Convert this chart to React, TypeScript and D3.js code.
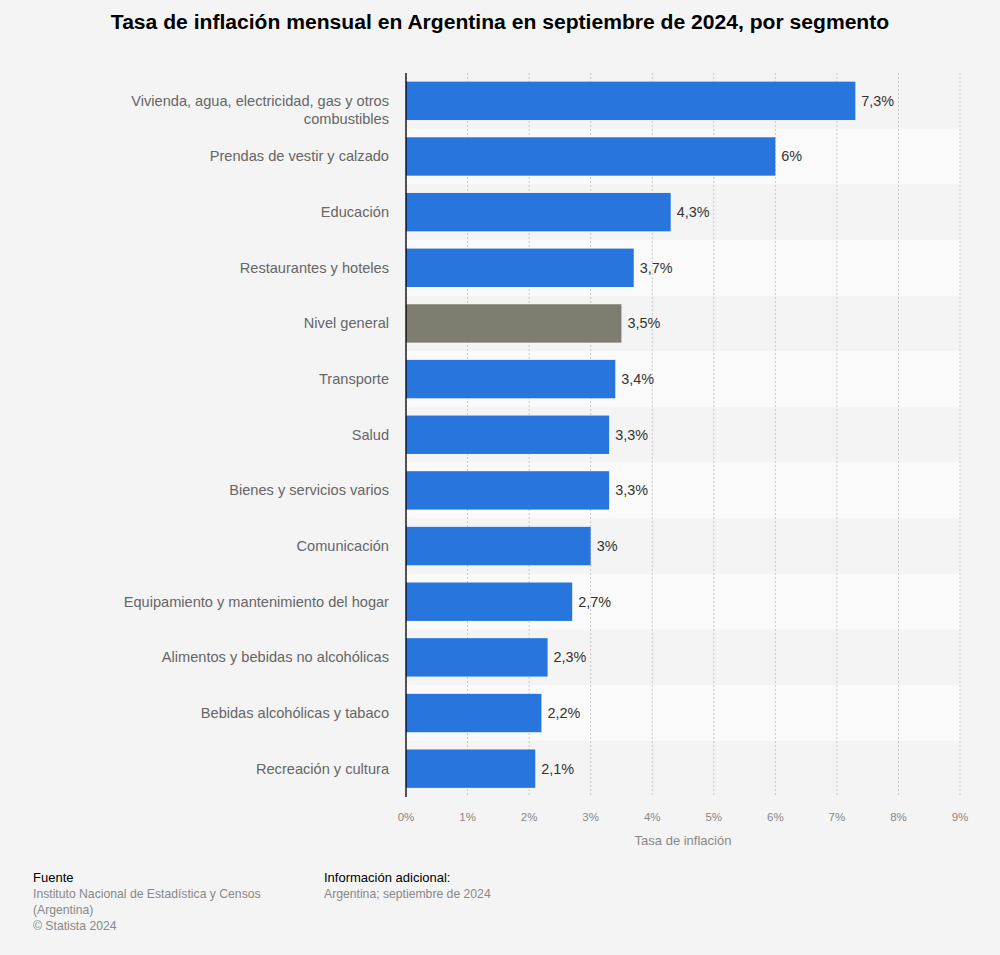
import React from "react";
import * as d3 from "d3";

const categories = [
  "Vivienda, agua, electricidad, gas y otros combustibles",
  "Prendas de vestir y calzado",
  "Educación",
  "Restaurantes y hoteles",
  "Nivel general",
  "Transporte",
  "Salud",
  "Bienes y servicios varios",
  "Comunicación",
  "Equipamiento y mantenimiento del hogar",
  "Alimentos y bebidas no alcohólicas",
  "Bebidas alcohólicas y tabaco",
  "Recreación y cultura",
];
const labelLines: Record<string, string[]> = {
  "Vivienda, agua, electricidad, gas y otros combustibles": [
    "Vivienda, agua, electricidad, gas y otros",
    "combustibles",
  ],
};
const values = [7.3, 6, 4.3, 3.7, 3.5, 3.4, 3.3, 3.3, 3, 2.7, 2.3, 2.2, 2.1];
const ticks = [0, 1, 2, 3, 4, 5, 6, 7, 8, 9];
const highlight = "Nivel general";

const W = 1000;
const H = 955;
const FONT = "'Liberation Sans', Arial, Helvetica, sans-serif";

export default function App() {
  const x = d3.scaleLinear().domain([0, 9]).range([406, 960]);
  const y = d3
    .scaleBand<string>()
    .domain(categories)
    .range([73, 796.5])
    .paddingInner(0.31)
    .paddingOuter(0.155);
  const step = y.step();
  const fmt = (v: number) => String(v).replace(".", ",") + "%";

  return (
    <svg
      width={W}
      height={H}
      style={{ display: "block", position: "absolute", left: 0, top: 0 }}
      fontFamily={FONT}
    >
      <rect width={W} height={H} fill="#f4f4f4" />
      <text x={500} y={29} textAnchor="middle" fontSize={21.1} fontWeight="bold" fill="#000">
        Tasa de inflación mensual en Argentina en septiembre de 2024, por segmento
      </text>
      {categories.map((c, i) => {
        const top = (y(c) as number) - step * 0.155;
        return i % 2 === 1 ? (
          <rect key={"bg" + c} x={406} y={top} width={554} height={step} fill="#fafafa" />
        ) : null;
      })}
      {ticks.map((t) => (
        <line
          key={"g" + t}
          x1={x(t)}
          x2={x(t)}
          y1={73}
          y2={797}
          stroke="#c8c8c8"
          strokeDasharray="2,2"
          strokeWidth={1}
        />
      ))}
      {categories.map((c, i) => {
        const by = y(c) as number;
        const bh = y.bandwidth();
        const cy = by + bh / 2;
        const lines = labelLines[c] || [c];
        return (
          <g key={c}>
            <rect
              x={x(0)}
              y={by}
              width={x(values[i]) - x(0)}
              height={bh}
              fill={c === highlight ? "#7f7d70" : "#2876dd"}
            />
            <text
              x={x(values[i]) + 6}
              y={cy + 5}
              fontSize={14.4}
              fill="#333"
            >
              {fmt(values[i])}
            </text>
            {lines.map((l, j) => (
              <text
                key={j}
                x={389}
                y={cy + 5 + j * 18}
                textAnchor="end"
                fontSize={14.6}
                fill="#666"
              >
                {l}
              </text>
            ))}
          </g>
        );
      })}
      <line x1={406} x2={406} y1={73} y2={797} stroke="#000" strokeWidth={1.3} />
      {ticks.map((t) => (
        <text
          key={"t" + t}
          x={x(t)}
          y={821}
          textAnchor="middle"
          fontSize={11.5}
          fill="#888"
        >
          {t + "%"}
        </text>
      ))}
      <text x={683} y={845} textAnchor="middle" fontSize={13} fill="#888">
        Tasa de inflación
      </text>
      <text x={33} y={882} fontSize={13} fill="#000">Fuente</text>
      <text x={33} y={898} fontSize={12.2} fill="#888">Instituto Nacional de Estadística y Censos</text>
      <text x={33} y={914} fontSize={12.2} fill="#888">(Argentina)</text>
      <text x={33} y={930} fontSize={12.2} fill="#888">© Statista 2024</text>
      <text x={324} y={882} fontSize={13} fill="#000">Información adicional:</text>
      <text x={324} y={898} fontSize={12.2} fill="#888">Argentina; septiembre de 2024</text>
    </svg>
  );
}
